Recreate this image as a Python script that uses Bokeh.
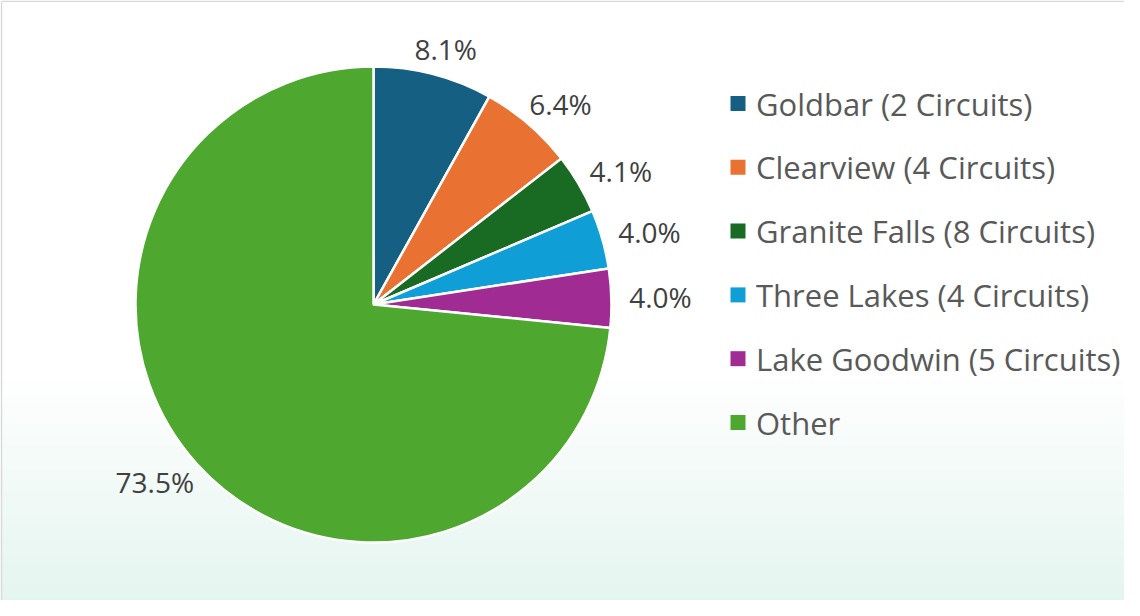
import numpy as np
from bokeh.plotting import figure
from bokeh.models import Range1d, ColumnDataSource
from bokeh.embed import file_html
from bokeh.resources import INLINE
from bokeh.core.properties import value

# ---- data ----
categories = ["Goldbar (2 Circuits)", "Clearview (4 Circuits)", "Granite Falls (8 Circuits)",
              "Three Lakes (4 Circuits)", "Lake Goodwin (5 Circuits)", "Other"]
shares = [8.1, 6.4, 4.1, 4.0, 4.0, 73.5]
pct_labels = ["8.1%", "6.4%", "4.1%", "4.0%", "4.0%", "73.5%"]
colors = ["#156082", "#E97132", "#196B24", "#0F9ED5", "#A02B93", "#4EA72E"]

# ---- layout (pixels inside figure; y up) ----
W, H = 1124, 600
FONT = "Open Sans"
cx, cy, R = 373, 296, 238

p = figure(width=W, height=H, x_range=Range1d(0, W), y_range=Range1d(0, H),
           output_backend="svg", toolbar_location=None, min_border=0)
p.axis.visible = False
p.grid.visible = False
p.outline_line_color = None
p.background_fill_color = "white"
p.border_fill_color = "white"

# background gradient (white -> pale mint toward bottom)
n = 120
grad_top = 223
img = np.empty((n, 1), dtype=np.uint32)
view = img.view(dtype=np.uint8).reshape((n, 1, 4))
c_end = np.array([0xE4, 0xF5, 0xEF], dtype=float)
for i in range(n):
    t = 1.0 - i / (n - 1)  # i=0 bottom row
    t *= 0.965
    col = 255 * (1 - t) + c_end * t
    view[i, 0, 0:3] = col.astype(np.uint8)
    view[i, 0, 3] = 255
p.image_rgba(image=[img], x=0, y=0, dw=W, dh=grad_top)

# chart area border (left and top visible)
p.segment(x0=[1, 1], y0=[0, H - 0.75], x1=[1, W], y1=[H - 0.75, H - 0.75],
          line_color="#d9d9d9", line_width=1.5)

# ---- pie ----
frac = np.array(shares) / np.sum(shares)
cum = np.concatenate([[0.0], np.cumsum(frac)])
start = np.pi / 2 - 2 * np.pi * cum[:-1]
end = np.pi / 2 - 2 * np.pi * cum[1:]
src = ColumnDataSource(dict(start=start, end=end, color=colors, cat=categories))
p.wedge(x=cx, y=cy, radius=R, start_angle="start", end_angle="end", direction="clock",
        fill_color="color", line_color="white", line_width=2.5, source=src)

# ---- data labels (outside end) ----
mid = (start + end) / 2
ux, uy = np.cos(mid), np.sin(mid)
gap = 17
hw = np.array([8.0 * len(s) for s in pct_labels])
hh = 9.0
lx = cx + ux * (R + gap) + hw * ux
ly = cy + uy * (R + gap) + hh * uy
p.text(x=lx, y=ly, text=pct_labels, text_font=value(FONT), text_font_size="28px",
       text_color="#404040", text_align="center", text_baseline="middle")

# ---- legend ----
leg_x, leg_y0, leg_dy = 737.5, 497, 63.8
ys = [leg_y0 - i * leg_dy for i in range(len(categories))]
p.scatter(x=[leg_x] * len(categories), y=ys, marker="square", size=15,
          fill_color=colors, line_color=None)
p.text(x=[leg_x + 18] * len(categories), y=ys, text=categories, text_font=value(FONT),
       text_font_size="31px", text_color="#595959", text_align="left", text_baseline="middle")

open("out.html", "w").write(file_html(p, INLINE))
